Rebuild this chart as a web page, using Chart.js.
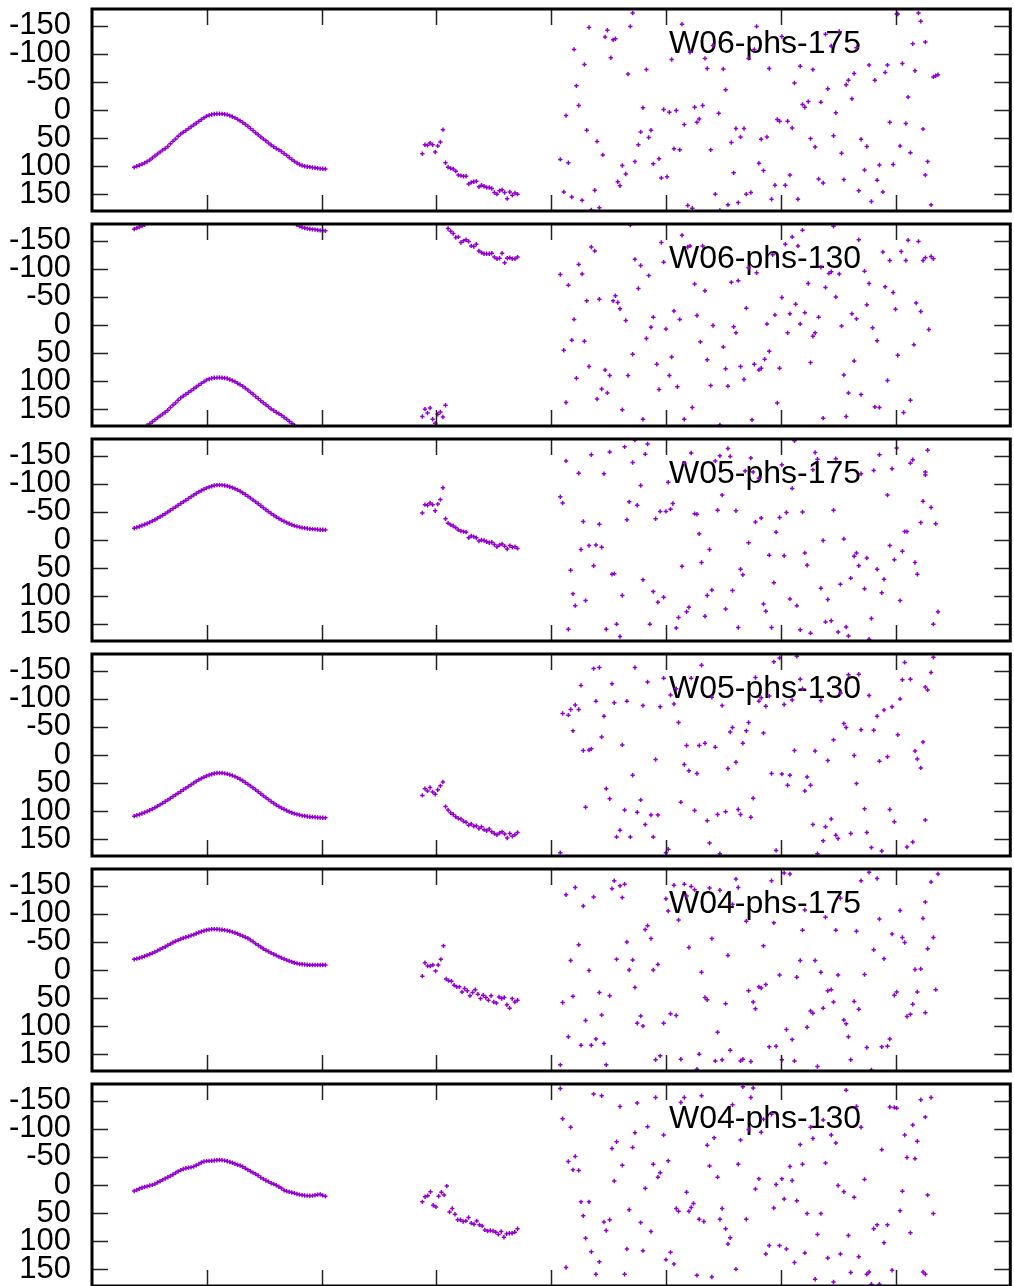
<!DOCTYPE html>
<html>
<head>
<meta charset="utf-8">
<script src="https://cdn.jsdelivr.net/npm/chart.js@4.4.1/dist/chart.umd.min.js"></script>
<style>
html,body{margin:0;padding:0;background:#fff;overflow:hidden;}
#wrap{position:relative;width:1014px;height:1286px;overflow:hidden;}
.panel{position:absolute;left:0;width:1014px;height:215px;}
</style>
</head>
<body>
<div id="wrap"></div>
<script>
// ---------------- DATA ----------------
const panelTitles = ["W06-phs-175","W06-phs-130","W05-phs-175","W05-phs-130","W04-phs-175","W04-phs-130"];
const yTickValues = [-150,-100,-50,0,50,100,150];
const xTickValues = [1,2,3,4,5,6,7];

// smooth segment: evenly sampled from curveStart to curveEnd
const curveStart = 0.368, curveEnd = 2.033;
// second segment: evenly sampled from clusterStart to clusterEnd
const clusterStart = 2.878, clusterEnd = 3.707;

const curveW06p175 = [102.2,100.3,98.4,96.7,94.5,92,89,85.5,82,78.5,75,71.5,68.5,65,60,55.5,51.5,47,42.8,39.5,36.5,33.2,30,26.6,23.5,20.2,17,14,11,9.3,8,7.1,6.8,6.6,6.9,7.5,8.3,10,12,14,16.7,19.3,22.2,25.5,29,33,36.5,40.5,44,48,51.5,55,58.7,62.5,65.4,68.5,71,74,77.5,80.8,84.5,88,91.5,94.5,97.2,99,100.3,101.2,101.8,102.5,103,103.8,104.4,104.8,105.2];
const curveW06p130 = [-170.8,-172.7,-174.6,-176.3,-178.5,179,176,172.5,169,165.5,162,158.5,155.5,152,147,142.5,138.5,134,129.8,126.5,123.5,120.2,117,113.6,110.5,107.2,104,101,98,96.3,95,94.1,93.8,93.6,93.9,94.5,95.3,97,99,101,103.7,106.3,109.2,112.5,116,120,123.5,127.5,131,135,138.5,142,145.7,149.5,152.4,155.5,158,161,164.5,167.8,171.5,175,178.5,-178.5,-175.8,-174,-172.7,-171.8,-171.2,-170.5,-170,-169.2,-168.6,-168.2,-167.8];
const curveW05p175 = [-21,-22.5,-24,-25.8,-27.6,-29.5,-31.5,-33.8,-36.2,-38.8,-41.5,-44.2,-47,-50,-53,-56,-59,-62,-65,-68,-71,-74,-77,-80,-83,-85.8,-88.3,-90.5,-92.5,-94.3,-95.8,-97,-97.8,-98,-97.8,-97.2,-96.3,-95,-93.4,-91.5,-89.3,-86.8,-84,-81,-78,-74.8,-71.5,-68,-64.5,-61,-57.5,-54,-50.5,-47.2,-44,-41,-38.2,-35.6,-33.2,-31,-29,-27.2,-25.6,-24.2,-23,-22,-21.2,-20.5,-19.9,-19.4,-19,-18.7,-18.4,-18.2,-18];
const curveW05p130 = [109,107.5,106,104.2,102.4,100.5,98.5,96.2,93.8,91.2,88.5,85.8,83,80,77,74,71,68,65,62,59,56,53,50,47,44.2,41.7,39.5,37.5,35.7,34.2,33,32.2,32,32.2,32.8,33.7,35,36.6,38.5,40.7,43.2,46,49,52,55.2,58.5,62,65.5,69,72.5,76,79.5,82.8,86,89,91.8,94.4,96.8,99,101,102.8,104.4,105.8,107,108,108.8,109.5,110.1,110.6,111,111.3,111.6,111.8,112];
const curveW04p175 = [-19,-20.2,-21.5,-22.8,-24.5,-26.3,-28,-30,-32.2,-34.5,-36.8,-39,-41.5,-44,-46.5,-49,-51.2,-53.2,-55.3,-57,-58.5,-59.8,-61.4,-63,-65,-66.8,-68.5,-70,-71.2,-72,-72.6,-72.8,-72.6,-72.2,-71.8,-71,-70.2,-69.2,-67.8,-66.3,-64.5,-62.5,-60.5,-58.5,-56.5,-53.5,-50.5,-47,-44,-41,-38,-35.2,-33,-30.5,-28.2,-26,-23.8,-21.6,-19.5,-17.6,-16,-14.5,-13,-11.8,-10.8,-10.2,-9.7,-9.4,-9.1,-9,-9,-8.9,-8.9,-9,-9];
const curveW04p130 = [10.7,8.9,6.8,5,3.6,2.4,1,-0.2,-2,-4.5,-6.8,-9.2,-11.5,-13.8,-16,-18.8,-21.5,-24.3,-26.5,-28.5,-29.8,-30.8,-31.5,-32.8,-35,-37.5,-40,-41.8,-42.5,-43,-43.3,-43.6,-44.2,-44.5,-44.3,-43.5,-42.3,-41,-39.6,-38,-36.2,-34.8,-32.5,-29.8,-27,-24.5,-22,-19.5,-17,-13.5,-10.5,-8,-6,-3,-1.5,0.5,3,6,9.5,11,12.3,13.3,14.5,16,17.2,18,18.6,19,19.2,19,18.2,17.2,16.7,18.5,20.2];

const clusterW06p175 = [78,62,63,59,62,75,64,57,35,94,102,104,105,109,116,117,118,118,132,129,128,127,137,134,136,138,138,140,147,150,144,142,147,158,146,152,148,150];
const clusterW06p130 = [163,150,157,148,168,175,159,155,164,143,-172,-167,-163,-156,-157,-147,-150,-152,-149,-141,-140,-144,-132,-129,-127,-127,-127,-128,-121,-118,-119,-128,-111,-119,-120,-118,-118,-121];
const clusterW05p175 = [-48,-63,-62,-66,-63,-52,-64,-72,-93,-38,-30,-27,-25,-22,-18,-16,-15,-14,-4,-7,-6,-4,2,0,1,3,5,4,8,12,9,7,11,16,10,13,12,15];
const clusterW05p130 = [72,60,64,58,66,70,62,55,48,92,98,103,106,110,113,114,118,120,125,123,127,126,131,128,133,135,132,137,140,142,139,137,141,148,140,145,142,138];
const clusterW04p175 = [11,-13,-7,-7,-9,2,-9,-19,-43,16,19,20,27,30,30,39,33,37,46,40,35,43,51,45,49,54,46,57,59,48,51,49,62,68,51,57,54];
const clusterW04p130 = [30,21,19,12,36,39,20,13,18,2,48,42,52,62,62,65,64,58,68,70,64,71,73,80,82,81,82,84,88,83,93,87,86,86,84,78];

const scatterW06p175 = [[4.71,-173],[4.33,-147],[4.49,-142],[4.47,-130],[4.54,-125],[4.56,-127],[4.69,-149],[4.20,-108],[4.29,-81],[4.52,-93],[4.67,-64],[4.83,-72],[4.22,-43],[4.24,-8],[4.13,10],[4.80,-4],[4.31,36],[4.40,56],[4.45,80],[4.78,39],[4.87,36],[4.85,49],[4.76,62],[4.08,88],[4.15,94],[4.73,92],[4.89,96],[4.94,87],[4.62,99],[4.65,114],[4.58,128],[4.60,135],[4.11,146],[4.18,155],[4.27,161],[4.38,143],[4.42,174],[4.35,178],
[5.14,-153],[5.05,-90],[5.21,-103],[5.41,-115],[5.34,-92],[5.36,-74],[5.50,-73],[5.52,-36],[5.79,-149],[5.77,-108],[5.72,-92],[6.01,-131],[5.90,-74],[6.17,-78],[6.28,-72],[6.12,-48],[6.39,-135],[6.44,-114],[6.51,-140],[6.66,-111],[6.41,-38],[6.57,-45],[6.59,-53],[6.64,-65],[6.62,-20],[6.77,-80],[6.82,-53],[6.93,-80],[6.91,-67],[7.06,-83],[7.17,-70],[7.11,-23],[7.33,-59],[7.35,-61],[7.37,-63],[7.01,-171],[7.02,-171],[7.20,-173],[7.22,-158],[7.15,-118],[7.26,-121],[4.98,-1],[5.03,4],[5.09,1],[5.25,-5],[5.32,-8],[5.29,16],[5.27,22],[5.16,26],[5.46,6],[6.19,-10],[6.21,-5],[6.24,-15],[6.35,-14],[6.48,5],[5.97,17],[5.99,20],[6.06,20],[6.10,32],[5.61,33],[5.65,48],[5.68,33],[5.57,58],[5.83,52],[5.88,48],[5.39,71],[5.07,69],[5.12,71],[6.26,51],[6.30,66],[6.46,46],[6.53,77],[6.70,52],[6.75,65],[6.95,22],[7.09,24],[7.04,64],[7.13,76],[7.24,34],[5.81,95],[5.85,108],[5.59,112],[4.96,121],[5.01,119],[5.95,134],[6.04,134],[6.08,116],[6.33,123],[6.37,130],[6.55,124],[6.73,107],[6.86,98],[6.98,97],[6.84,125],[6.89,146],[6.68,144],[6.79,163],[7.28,92],[7.26,116],[7.31,169],[5.43,150],[5.19,170],[5.23,175],[5.54,169],[5.63,165],[5.70,150],[5.74,147],[5.92,159],[6.15,159],[5.47,179]];

const scatterW06p130 = [[4.69,-178],[4.35,-139],[4.38,-132],[4.24,-108],[4.27,-91],[4.08,-90],[4.15,-71],[4.73,-117],[4.78,-106],[4.85,-88],[4.76,-65],[4.31,-43],[4.42,-46],[4.54,-43],[4.56,-52],[4.58,-40],[4.60,-29],[4.65,-8],[4.20,-10],[4.18,27],[4.11,45],[4.29,29],[4.89,-14],[4.87,4],[4.83,24],[4.71,52],[4.92,70],[4.33,74],[4.47,80],[4.51,90],[4.67,90],[4.22,95],[4.44,114],[4.49,121],[4.40,132],[4.13,138],[4.62,151],[4.80,168],[4.94,115],
[4.96,-147],[4.98,-112],[5.14,-160],[5.21,-141],[5.32,-141],[5.19,-139],[5.25,-73],[5.34,-61],[5.07,-25],[5.12,-10],[5.00,7],[5.27,-17],[5.41,1],[5.30,30],[5.05,57],[5.03,90],[5.10,110],[5.23,147],[5.16,168],[5.36,62],[5.39,108],[5.50,39],[5.52,78],[5.54,109],[5.57,-76],[5.63,-79],[5.59,3],[5.61,14],[5.65,74],[5.68,97],[5.70,-30],[5.72,-102],[5.79,-93],[5.75,169],[5.77,70],[5.81,80],[5.83,77],[5.86,61],[5.90,47],[5.88,-2],[5.95,-18],[5.93,-125],[5.97,139],[5.99,77],[6.01,-49],[6.04,-144],[6.06,14],[6.08,-20],[6.10,-157],[6.13,-37],[6.15,-141],[6.17,-2],[6.19,-169],[6.21,-22],[6.24,-74],[6.26,67],[6.28,20],[6.30,14],[6.33,-14],[6.35,-103],[6.37,166],[6.39,-67],[6.42,-92],[6.44,-95],[6.46,-176],[6.48,-50],[6.51,-91],[6.53,2],[6.55,89],[6.57,163],[6.59,121],[6.62,-20],[6.64,64],[6.66,-11],[6.68,-152],[6.70,124],[6.73,-96],[6.75,-36],[6.77,-74],[6.80,5],[6.82,146],[6.84,28],[6.86,147],[6.89,-130],[6.91,-68],[6.93,99],[6.95,-115],[6.98,-58],[7.00,-28],[7.02,54],[7.05,-131],[7.07,156],[7.09,-115],[7.11,-151],[7.13,134],[7.16,35],[7.18,-39],[7.20,-149],[7.22,-24],[7.24,-115],[7.26,-120],[7.29,8],[7.31,-122],[7.33,-118],[5.47,178]];

const scatterW05p175 = [[4.13,-141],[4.24,-119],[4.35,-152],[4.46,-118],[4.51,-157],[4.64,-166],[4.71,-138],[4.73,-178],[4.82,-153],[4.84,-171],[4.78,-97],[4.08,-77],[4.10,-66],[4.28,-33],[4.42,-28],[4.26,17],[4.33,10],[4.39,9],[4.44,13],[4.66,-36],[4.68,-68],[4.75,-62],[4.91,-38],[4.95,-51],[5.00,-51],[5.04,-55],[5.06,-65],[5.02,-103],[4.17,54],[4.37,46],[4.53,61],[4.55,60],[4.80,71],[4.19,96],[4.21,117],[4.30,108],[4.62,99],[4.89,92],[4.93,111],[4.98,102],[4.15,159],[4.48,159],[4.57,150],[4.60,172],[4.86,150],[5.09,157],[5.11,138],[5.18,128],[5.20,120],[5.14,47],[5.25,-47],[5.27,-46],[5.29,-11],[5.31,40],[5.38,17],[5.34,136],[5.36,99],[5.40,89],[5.45,-53],[5.52,123],[5.58,90],[5.63,156],[5.61,-52],[5.49,-80],[5.43,-141],[5.47,-150],[5.54,-163],[5.56,-149],[5.22,-155],[5.16,-137],[5.69,-123],[5.74,-146],[5.76,-121],[5.81,-110],[5.72,5],[5.65,52],[5.67,62],[5.78,-32],[5.83,-39],[5.85,114],[5.87,127],[5.92,156],[5.94,76],[5.90,27],[5.96,-14],[5.99,-40],[6.03,28],[6.01,-134],[6.05,-49],[6.08,105],[6.10,-92],[6.12,-177],[6.14,117],[6.17,160],[6.19,-50],[6.21,23],[6.23,45],[6.26,166],[6.30,-156],[6.32,-144],[6.28,-125],[6.35,86],[6.37,1],[6.39,146],[6.41,106],[6.44,144],[6.46,-53],[6.48,-145],[6.50,164],[6.52,79],[6.55,-2],[6.57,155],[6.59,171],[6.61,68],[6.64,29],[6.66,23],[6.68,46],[6.70,-118],[6.73,87],[6.75,32],[6.77,177],[6.79,140],[6.81,-124],[6.84,52],[6.86,-152],[6.88,94],[6.90,70],[6.93,-80],[6.95,10],[6.97,-127],[6.99,35],[7.01,-164],[7.04,108],[7.06,20],[7.08,-15],[7.10,-15],[7.13,-137],[7.15,-143],[7.17,40],[7.19,61],[7.22,-31],[7.24,-69],[7.26,-121],[7.26,-116],[7.28,-160],[7.31,-58],[7.33,150],[7.35,-29],[7.37,128]];

const scatterW05p130 = [[4.08,174],[4.10,-74],[4.15,-71],[4.17,-81],[4.19,-43],[4.21,-89],[4.24,-81],[4.26,-124],[4.28,-8],[4.30,93],[4.33,-9],[4.35,-11],[4.37,-154],[4.39,-96],[4.42,-156],[4.44,-32],[4.46,-69],[4.48,60],[4.51,78],[4.53,-127],[4.55,-93],[4.57,146],[4.60,134],[4.62,-18],[4.64,98],[4.66,-96],[4.69,146],[4.71,36],[4.73,-156],[4.75,102],[4.78,80],[4.80,-88],[4.82,124],[4.84,-130],[4.87,107],[4.89,146],[4.91,8],[4.93,107],[4.95,-86],[4.98,-137],[5.00,174],[5.02,168],[5.04,-107],[5.07,-91],[5.09,-118],[5.11,-58],[5.13,84],[5.16,17],[5.18,-17],[5.20,28],[5.22,-137],[5.25,99],[5.27,33],[5.29,-17],[5.31,-160],[5.34,-21],[5.36,117],[5.38,157],[5.40,-103],[5.43,-14],[5.45,106],[5.47,176],[5.49,-88],[5.52,101],[5.54,24],[5.56,-41],[5.58,-49],[5.61,13],[5.63,97],[5.65,106],[5.67,-21],[5.70,-43],[5.72,-58],[5.74,111],[5.76,77],[5.78,-138],[5.81,-96],[5.83,-102],[5.85,-39],[5.87,-87],[5.90,-105],[5.92,33],[5.94,-166],[5.96,170],[5.99,-173],[6.01,34],[6.03,-90],[6.06,54],[6.08,36],[6.10,-98],[6.12,-8],[6.14,-176],[6.17,-135],[6.19,-118],[6.21,64],[6.23,39],[6.26,54],[6.28,124],[6.30,-7],[6.32,176],[6.35,-97],[6.37,153],[6.39,128],[6.41,10],[6.44,114],[6.46,-27],[6.48,143],[6.50,149],[6.52,-110],[6.55,-56],[6.57,-49],[6.59,-143],[6.61,140],[6.64,1],[6.66,51],[6.68,-144],[6.70,-45],[6.73,96],[6.75,138],[6.77,-106],[6.79,165],[6.81,-44],[6.84,-69],[6.86,11],[6.88,171],[6.90,-80],[6.93,3],[6.95,97],[6.97,-86],[6.99,119],[7.02,-36],[7.04,-100],[7.06,-134],[7.08,-165],[7.10,164],[7.13,-135],[7.15,155],[7.17,-7],[7.19,7],[7.22,23],[7.24,-23],[7.26,-121],[7.26,116],[7.28,-116],[7.31,-147],[7.33,-174]];

const scatterW04p175 = [[4.08,169],[4.10,58],[4.13,-134],[4.15,119],[4.17,-17],[4.19,47],[4.21,-147],[4.24,-45],[4.26,134],[4.28,-114],[4.30,90],[4.33,1],[4.35,134],[4.37,-130],[4.39,123],[4.42,40],[4.44,80],[4.46,131],[4.48,169],[4.51,46],[4.53,-145],[4.55,-159],[4.57,-19],[4.60,-150],[4.62,-129],[4.64,-153],[4.66,-50],[4.68,0],[4.71,-18],[4.73,31],[4.75,95],[4.78,82],[4.80,100],[4.82,-72],[4.84,-79],[4.87,-56],[4.89,0],[4.91,160],[4.93,-10],[4.95,153],[4.98,95],[5.00,-127],[5.02,-105],[5.04,78],[5.07,-151],[5.09,81],[5.11,-89],[5.13,159],[5.16,-153],[5.18,-132],[5.20,-40],[5.22,-149],[5.25,-143],[5.27,177],[5.29,150],[5.31,4],[5.34,49],[5.36,53],[5.38,-146],[5.40,-56],[5.43,162],[5.45,111],[5.47,-142],[5.49,160],[5.52,60],[5.54,-26],[5.56,143],[5.58,-117],[5.61,-162],[5.63,-147],[5.65,162],[5.67,159],[5.70,-87],[5.72,37],[5.74,163],[5.76,57],[5.78,69],[5.81,30],[5.83,32],[5.85,-43],[5.87,26],[5.90,137],[5.92,-159],[5.94,-84],[5.96,136],[5.99,9],[6.01,160],[6.03,-173],[6.05,106],[6.08,-171],[6.10,124],[6.12,162],[6.14,13],[6.17,-17],[6.19,-71],[6.21,-107],[6.23,102],[6.26,73],[6.28,77],[6.30,-17],[6.32,172],[6.35,4],[6.37,68],[6.39,-94],[6.41,37],[6.44,35],[6.46,57],[6.48,-71],[6.50,9],[6.52,-128],[6.55,89],[6.57,96],[6.59,119],[6.61,160],[6.64,56],[6.66,-69],[6.68,70],[6.70,-159],[6.73,8],[6.75,138],[6.77,-174],[6.79,178],[6.81,-36],[6.84,-163],[6.86,-91],[6.88,137],[6.90,-20],[6.93,136],[6.95,123],[6.97,-64],[6.99,45],[7.01,39],[7.04,-106],[7.06,-58],[7.08,-49],[7.10,83],[7.13,79],[7.15,61],[7.17,-1],[7.19,39],[7.22,-2],[7.24,-92],[7.26,76],[7.26,-121],[7.28,-38],[7.31,-157],[7.33,-58],[7.35,35],[7.37,-171]];

const scatterW04p130 = [[4.08,-172],[4.10,-118],[4.13,147],[4.15,-42],[4.17,-103],[4.19,-27],[4.21,-51],[4.24,-26],[4.26,30],[4.28,55],[4.30,95],[4.33,30],[4.35,119],[4.37,-162],[4.39,159],[4.42,137],[4.44,-159],[4.46,66],[4.48,81],[4.51,62],[4.53,-65],[4.55,-7],[4.57,-77],[4.60,-140],[4.62,-35],[4.64,159],[4.66,114],[4.68,44],[4.71,-67],[4.73,-93],[4.75,-146],[4.78,67],[4.80,117],[4.82,6],[4.84,-104],[4.87,83],[4.89,-37],[4.91,-156],[4.93,-14],[4.95,-22],[4.98,-89],[5.00,133],[5.02,-43],[5.04,120],[5.07,141],[5.09,42],[5.11,47],[5.13,-147],[5.16,-156],[5.18,13],[5.20,47],[5.22,40],[5.24,33],[5.27,161],[5.29,61],[5.31,-159],[5.33,65],[5.36,-71],[5.38,-34],[5.40,164],[5.42,-84],[5.45,-14],[5.47,61],[5.49,42],[5.52,78],[5.54,105],[5.56,94],[5.58,-143],[5.61,150],[5.63,-37],[5.65,-80],[5.67,-175],[5.70,61],[5.72,-99],[5.74,-156],[5.76,-173],[5.78,7],[5.81,-11],[5.83,-94],[5.85,-117],[5.87,123],[5.90,108],[5.92,-126],[5.94,41],[5.96,-1],[5.99,108],[6.01,-11],[6.03,25],[6.05,114],[6.08,-33],[6.10,-8],[6.12,138],[6.14,28],[6.17,-72],[6.19,-37],[6.21,121],[6.23,51],[6.26,-103],[6.28,-83],[6.30,168],[6.32,88],[6.35,51],[6.37,-116],[6.39,-39],[6.41,130],[6.44,-89],[6.46,173],[6.48,-75],[6.50,1],[6.52,123],[6.55,12],[6.57,-169],[6.59,90],[6.61,156],[6.64,22],[6.66,-140],[6.68,128],[6.70,-103],[6.73,-10],[6.75,159],[6.77,155],[6.79,177],[6.81,78],[6.84,71],[6.86,177],[6.88,-63],[6.90,103],[6.93,71],[6.95,-139],[6.97,152],[6.99,-138],[7.01,-137],[7.04,46],[7.06,11],[7.08,-89],[7.10,-49],[7.13,85],[7.15,-107],[7.17,-47],[7.19,-78],[7.22,-152],[7.24,155],[7.26,-121],[7.26,159],[7.28,18],[7.31,-156],[7.33,51]];

const curves = [curveW06p175, curveW06p130, curveW05p175, curveW05p130, curveW04p175, curveW04p130];
const clusters = [clusterW06p175, clusterW06p130, clusterW05p175, clusterW05p130, clusterW04p175, clusterW04p130];
const scatters = [scatterW06p175, scatterW06p130, scatterW05p175, scatterW05p130, scatterW04p175, scatterW04p130];

// ---------------- RENDER ----------------
const FONT = "'Liberation Sans', Arial, Helvetica, sans-serif";
const POINT_COLOR = '#9400d3';

function evenSeries(values, start, end) {
  const n = values.length;
  const step = n > 1 ? (end - start) / (n - 1) : 0;
  return values.map((v, i) => ({x: start + i * step, y: v}));
}

const framePlugin = {
  id: 'frame',
  beforeDatasetsDraw(chart, args, opts) {
    const {ctx, chartArea} = chart;
    ctx.save();
    ctx.fillStyle = '#000';
    ctx.font = '32px ' + FONT;
    ctx.textAlign = 'left';
    ctx.textBaseline = 'alphabetic';
    ctx.fillText(opts.title, 669, chartArea.top + 44);
    ctx.restore();
  },
  afterDatasetsDraw(chart) {
    const {ctx, chartArea: a, scales} = chart;
    ctx.save();
    ctx.strokeStyle = '#222';
    ctx.lineWidth = 1.5;
    const tl = 16;
    ctx.beginPath();
    xTickValues.forEach(v => {
      const px = Math.round(scales.x.getPixelForValue(v)) + 0.5;
      ctx.moveTo(px, a.top); ctx.lineTo(px, a.top + tl);
      ctx.moveTo(px, a.bottom); ctx.lineTo(px, a.bottom - tl);
    });
    yTickValues.forEach(v => {
      const py = Math.round(scales.y.getPixelForValue(v)) + 0.5;
      ctx.moveTo(a.left, py); ctx.lineTo(a.left + tl, py);
      ctx.moveTo(a.right, py); ctx.lineTo(a.right - tl, py);
    });
    ctx.stroke();
    ctx.strokeStyle = '#000';
    ctx.lineWidth = 3;
    ctx.strokeRect(a.left, a.top, a.right - a.left, a.bottom - a.top);
    ctx.restore();
  }
};

const wrap = document.getElementById('wrap');
panelTitles.forEach((title, i) => {
  const div = document.createElement('div');
  div.className = 'panel';
  div.style.top = (215 * i) + 'px';
  const cv = document.createElement('canvas');
  cv.width = 1014; cv.height = 215;
  cv.style.width = '1014px'; cv.style.height = '215px';
  div.appendChild(cv);
  wrap.appendChild(div);

  const pts = []
    .concat(evenSeries(curves[i], curveStart, curveEnd))
    .concat(evenSeries(clusters[i], clusterStart, clusterEnd))
    .concat(scatters[i].map(p => ({x: p[0], y: p[1]})));

  new Chart(cv, {
    type: 'scatter',
    data: {datasets: [{
      data: pts,
      pointStyle: 'cross',
      pointRadius: 2.2,
      pointHoverRadius: 2.2,
      pointBorderWidth: 1.5,
      borderColor: POINT_COLOR,
      backgroundColor: POINT_COLOR,
      showLine: false
    }]},
    options: {
      responsive: false,
      animation: false,
      events: [],
      layout: {padding: {top: 9, right: 2, bottom: 4, left: 0}},
      plugins: {legend: {display: false}, tooltip: {enabled: false}, frame: {title: title}},
      scales: {
        x: {type: 'linear', min: 0, max: 8, display: false},
        y: {
          type: 'linear', min: -180, max: 180, reverse: true,
          afterFit(s) { s.width = 92; s.paddingTop = 0; s.paddingBottom = 0; },
          afterBuildTicks(s) { s.ticks = yTickValues.map(v => ({value: v})); },
          grid: {display: false, drawTicks: false},
          border: {display: false},
          ticks: {padding: 21, color: '#000', autoSkip: false, maxRotation: 0,
                  font: {family: FONT, size: 31}}
        }
      }
    },
    plugins: [framePlugin]
  });
});
</script>
</body>
</html>
